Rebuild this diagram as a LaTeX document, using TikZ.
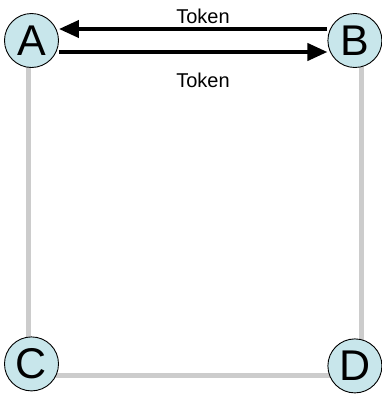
\documentclass[tikz,border=0pt]{standalone}
\usepackage{fontspec}
\setmainfont{Liberation Sans}
\usepackage{xcolor}
\usetikzlibrary{positioning,arrows.meta,backgrounds}

\definecolor{stationfill}{RGB}{200,230,235}
\definecolor{ringgray}{RGB}{204,204,204}

\begin{document}
\begin{tikzpicture}[
      station/.style={draw, circle, fill=stationfill, line width=0.9pt, minimum size=54pt, inner sep=0pt, font=\fontsize{43}{43}\selectfont},
      ring/.style={ringgray, line width=5pt},
      pass/.style={-{Triangle[length=20pt,width=17pt]}, line width=4pt},
      tag/.style={font=\fontsize{20}{24}\selectfont, inner sep=0pt}
    ]
    \useasboundingbox (0pt,0pt) rectangle (381pt,-397pt);
    \node[station] (A) at (31.5pt,-40.5pt) {A};
    \node[station, right=268.5pt of A] (B) {B};
    \node[station, below=268.5pt of A] (C) {C};
    \node[station, below=270.5pt of B] (D) {D};

    \begin{scope}[on background layer]
      \draw[ring] ([xshift=-3.5pt]A.center) -- ([xshift=-3.5pt]C.center);
      \draw[ring] ([xshift=6.5pt]B.center) -- ([xshift=6.5pt]D.center);
      \draw[ring] ([yshift=-11.5pt]C.center) -- ([yshift=-9.5pt]D.center);
    \end{scope}

    \draw[pass] ([yshift=11.5pt]B.west) -- ([yshift=11.5pt]A.east);
    \draw[pass] ([yshift=-11.5pt]A.east) -- ([yshift=-11.5pt]B.west);

    \node[tag] (top) at (203pt,-16pt) {Token};
    \node[tag] (bottom) at (203pt,-80pt) {Token};
  \end{tikzpicture}
\end{document}
